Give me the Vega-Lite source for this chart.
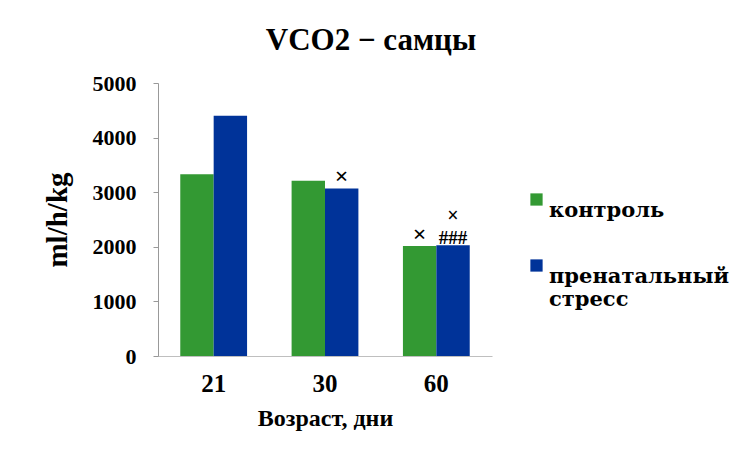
{
  "$schema": "https://vega.github.io/schema/vega-lite/v6.json",
  "width": 334,
  "height": 273,
  "autosize": {"type": "none"},
  "padding": {"left": 158, "top": 83, "right": 242, "bottom": 94},
  "background": "white",
  "title": {
    "text": "VCO2 − самцы",
    "font": "Liberation Serif",
    "fontSize": 31,
    "fontWeight": "bold",
    "color": "black",
    "anchor": "middle",
    "dx": 46,
    "offset": 15
  },
  "data": {
    "values": [
      {"age": "21", "group": "контроль", "value": 3330, "x1": "", "hash": "", "x2": ""},
      {"age": "21", "group": "пренатальный стресс", "value": 4400, "x1": "", "hash": "", "x2": ""},
      {"age": "30", "group": "контроль", "value": 3210, "x1": "", "hash": "", "x2": ""},
      {"age": "30", "group": "пренатальный стресс", "value": 3070, "x1": "×", "hash": "", "x2": ""},
      {"age": "60", "group": "контроль", "value": 2015, "x1": "×", "hash": "", "x2": ""},
      {"age": "60", "group": "пренатальный стресс", "value": 2027, "x1": "", "hash": "###", "x2": "×"}
    ]
  },
  "encoding": {
    "x": {
      "field": "age",
      "type": "nominal",
      "scale": {"paddingInner": 0.4, "paddingOuter": 0.2},
      "axis": {
        "title": "Возраст, дни",
        "labelAngle": 0,
        "labelFont": "Liberation Serif",
        "labelFontSize": 25,
        "labelFontWeight": "bold",
        "labelColor": "black",
        "labelPadding": 15,
        "ticks": false,
        "domainColor": "#bfbfbf",
        "titleFont": "Liberation Serif",
        "titleFontSize": 24,
        "titleFontWeight": "bold",
        "titleColor": "black",
        "titlePadding": 10
      }
    },
    "xOffset": {"field": "group", "type": "nominal"},
    "y": {
      "field": "value",
      "type": "quantitative",
      "scale": {"domain": [0, 5000]},
      "axis": {
        "title": "ml/h/kg",
        "values": [0, 1000, 2000, 3000, 4000, 5000],
        "format": "d",
        "grid": false,
        "labelFont": "Liberation Serif",
        "labelFontSize": 22,
        "labelFontWeight": "bold",
        "labelColor": "black",
        "labelPadding": 17,
        "tickSize": 5,
        "tickColor": "#999999",
        "domainColor": "#999999",
        "titleFont": "Liberation Serif",
        "titleFontSize": 29,
        "titleFontWeight": "bold",
        "titleColor": "black",
        "titleX": -86,
        "titleBaseline": "bottom"
      }
    }
  },
  "layer": [
    {
      "mark": {"type": "bar"},
      "encoding": {
        "color": {
          "field": "group",
          "type": "nominal",
          "scale": {"domain": ["контроль", "пренатальный стресс"], "range": ["#339933", "#003399"]},
          "legend": {
            "title": null,
            "orient": "none",
            "legendX": 368,
            "legendY": 106,
            "symbolType": "square",
            "symbolSize": 150,
            "symbolStrokeWidth": 0,
            "labelFont": "DejaVu Serif",
            "labelFontSize": 21,
            "labelFontWeight": "bold",
            "labelColor": "black",
            "labelLimit": 300,
            "labelOffset": 2,
            "labelBaseline": "top",
            "rowPadding": 34,
            "labelExpr": "datum.label == 'пренатальный стресс' ? ['пренатальный', 'стресс'] : datum.label"
          }
        }
      }
    },
    {
      "mark": {"type": "text", "baseline": "alphabetic", "dy": -4, "font": "Liberation Serif", "fontSize": 24, "fontWeight": "bold", "color": "black"},
      "encoding": {"text": {"field": "x1"}}
    },
    {
      "mark": {"type": "text", "baseline": "alphabetic", "dy": -1, "font": "Liberation Serif", "fontSize": 19, "fontWeight": "bold", "color": "black"},
      "encoding": {"text": {"field": "hash"}}
    },
    {
      "mark": {"type": "text", "baseline": "alphabetic", "dy": -23, "font": "Liberation Serif", "fontSize": 20, "fontWeight": "bold", "color": "black"},
      "encoding": {"text": {"field": "x2"}}
    }
  ],
  "config": {
    "view": {"stroke": null},
    "font": "Liberation Serif"
  }
}
